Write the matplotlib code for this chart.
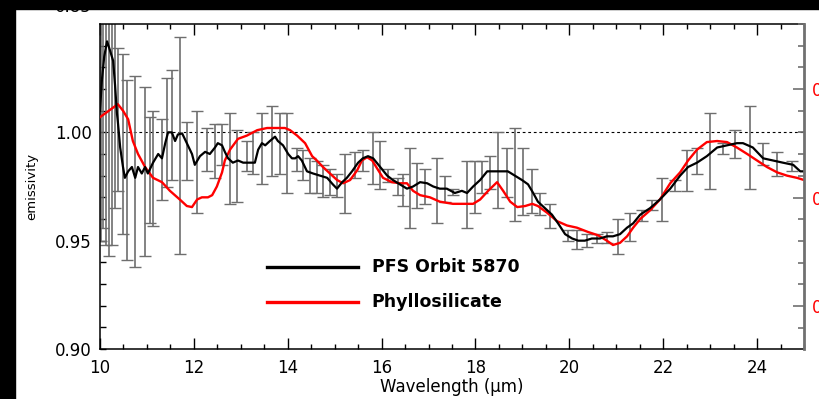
import numpy as np
import matplotlib
matplotlib.use("Agg")
import matplotlib.pyplot as plt
from matplotlib.patches import Rectangle
from matplotlib.ticker import MultipleLocator, FixedLocator

# PFS Orbit 5870 spectrum (wavelength, emissivity)
pfs_wl = [10.00, 10.04, 10.09, 10.15, 10.21, 10.28, 10.32, 10.36, 10.38, 10.43,
          10.49, 10.53, 10.60, 10.68, 10.75, 10.81, 10.89, 10.96, 11.02, 11.13,
          11.24, 11.32, 11.39, 11.45, 11.53, 11.60, 11.66, 11.75, 11.85, 11.96,
          12.02, 12.13, 12.24, 12.34, 12.45, 12.51, 12.60, 12.66, 12.73, 12.83,
          12.94, 13.05, 13.15, 13.30, 13.37, 13.45, 13.52, 13.62, 13.73, 13.79,
          13.90, 14.01, 14.09, 14.16, 14.22, 14.30, 14.41, 14.54, 14.69, 14.84,
          14.96, 15.05, 15.16, 15.26, 15.37, 15.50, 15.60, 15.71, 15.82, 15.97,
          16.12, 16.24, 16.39, 16.54, 16.67, 16.82, 16.97, 17.10, 17.24, 17.39,
          17.56, 17.71, 17.82, 17.95, 18.10, 18.25, 18.37, 18.52, 18.69, 18.84,
          18.99, 19.12, 19.23, 19.33, 19.48, 19.63, 19.76, 19.91, 20.06, 20.19,
          20.33, 20.48, 20.65, 20.80, 20.93, 21.08, 21.23, 21.36, 21.51, 21.72,
          21.93, 22.15, 22.36, 22.53, 22.72, 22.93, 23.15, 23.36, 23.57, 23.70,
          23.91, 24.13, 24.34, 24.55, 24.77, 24.92, 25.00]
pfs_em = [1.010, 1.024, 1.035, 1.042, 1.038, 1.033, 1.022, 1.009, 1.005, 0.993,
          0.984, 0.979, 0.982, 0.984, 0.979, 0.984, 0.981, 0.984, 0.981, 0.986,
          0.990, 0.988, 0.995, 1.000, 1.000, 0.996, 0.999, 0.9995, 0.995, 0.990,
          0.985, 0.989, 0.991, 0.990, 0.993, 0.995, 0.994, 0.991, 0.988, 0.986,
          0.987, 0.986, 0.986, 0.986, 0.992, 0.995, 0.994, 0.996, 0.998, 0.996,
          0.994, 0.990, 0.988, 0.988, 0.989, 0.987, 0.982, 0.981, 0.980, 0.979,
          0.976, 0.974, 0.977, 0.979, 0.982, 0.986, 0.988, 0.989, 0.988, 0.984,
          0.980, 0.978, 0.976, 0.974, 0.975, 0.977, 0.9765, 0.975, 0.974, 0.974,
          0.972, 0.973, 0.972, 0.975, 0.978, 0.982, 0.982, 0.982, 0.982, 0.980,
          0.978, 0.976, 0.972, 0.968, 0.965, 0.962, 0.958, 0.953, 0.951, 0.950,
          0.950, 0.951, 0.951, 0.952, 0.952, 0.953, 0.956, 0.958, 0.962, 0.965,
          0.969, 0.974, 0.980, 0.984, 0.986, 0.989, 0.993, 0.994, 0.995, 0.995,
          0.993, 0.988, 0.987, 0.986, 0.985, 0.982, 0.982]

# Phyllosilicate model
phy_wl = [10.00, 10.19, 10.38, 10.49, 10.60, 10.70, 10.81, 10.96, 11.13, 11.32,
          11.49, 11.70, 11.85, 11.96, 12.07, 12.17, 12.30, 12.39, 12.49, 12.60,
          12.66, 12.77, 12.94, 13.13, 13.35, 13.56, 13.77, 13.94, 14.05, 14.20,
          14.37, 14.52, 14.62, 14.75, 14.90, 15.05, 15.18, 15.33, 15.48, 15.58,
          15.69, 15.80, 15.90, 16.03, 16.22, 16.39, 16.54, 16.67, 16.82, 17.03,
          17.24, 17.52, 17.82, 17.95, 18.10, 18.27, 18.46, 18.59, 18.74, 18.89,
          19.06, 19.21, 19.33, 19.52, 19.74, 19.95, 20.16, 20.40, 20.61, 20.80,
          20.93, 21.08, 21.23, 21.36, 21.51, 21.72, 21.93, 22.15, 22.36, 22.53,
          22.72, 22.93, 23.15, 23.36, 23.57, 23.79, 24.00, 24.21, 24.43, 24.64,
          24.85, 25.00]
phy_em = [1.007, 1.010, 1.013, 1.010, 1.006, 0.996, 0.990, 0.984, 0.979, 0.977,
          0.973, 0.969, 0.966, 0.9655, 0.969, 0.970, 0.970, 0.971, 0.975, 0.9815,
          0.987, 0.992, 0.997, 0.9985, 1.001, 1.002, 1.002, 1.002, 1.001, 0.9985,
          0.995, 0.989, 0.987, 0.984, 0.981, 0.978, 0.9765, 0.978, 0.9825, 0.987,
          0.9885, 0.987, 0.9835, 0.979, 0.977, 0.9765, 0.9765, 0.973, 0.971, 0.970,
          0.968, 0.967, 0.967, 0.967, 0.969, 0.973, 0.977, 0.973, 0.968, 0.9655,
          0.966, 0.967, 0.966, 0.963, 0.959, 0.957, 0.956, 0.954, 0.9525, 0.950,
          0.948, 0.949, 0.952, 0.956, 0.960, 0.964, 0.969, 0.9765, 0.9815, 0.987,
          0.992, 0.9955, 0.996, 0.9955, 0.993, 0.990, 0.987, 0.984, 0.9815, 0.980,
          0.979, 0.978]

# error bars (wavelength, upper, lower)
err_wl = [10.02, 10.06, 10.13, 10.19, 10.26, 10.32, 10.38, 10.49, 10.58, 10.75,
          10.96, 11.07, 11.13, 11.32, 11.43, 11.53, 11.70, 11.85, 12.07, 12.28,
          12.45, 12.60, 12.77, 12.92, 13.13, 13.26, 13.45, 13.66, 13.84, 13.98,
          14.20, 14.33, 14.47, 14.62, 14.75, 14.90, 15.05, 15.22, 15.43, 15.60,
          15.82, 15.97, 16.14, 16.35, 16.46, 16.61, 16.75, 16.93, 17.18, 17.35,
          17.52, 17.82, 17.99, 18.14, 18.31, 18.48, 18.67, 18.84, 19.01, 19.21,
          19.38, 19.59, 19.97, 20.16, 20.38, 20.59, 20.80, 21.04, 21.29, 21.55,
          21.76, 21.98, 22.25, 22.51, 22.72, 23.00, 23.28, 23.53, 23.85, 24.13,
          24.43, 24.75]
err_hi = [1.080, 1.080, 1.080, 1.080, 1.080, 1.080, 1.039, 1.036, 1.024, 1.026,
          1.021, 1.007, 1.010, 1.006, 1.025, 1.029, 1.044, 1.005, 1.010, 1.002,
          1.004, 1.004, 1.009, 1.001, 0.996, 1.000, 1.009, 1.012, 1.009, 1.009,
          0.993, 0.992, 0.988, 0.987, 0.985, 0.983, 0.981, 0.990, 0.991, 0.992,
          1.000, 0.996, 0.983, 0.979, 0.981, 0.993, 0.986, 0.983, 0.988, 0.980,
          0.974, 0.987, 0.987, 0.987, 0.989, 1.000, 0.993, 1.002, 0.993, 0.983,
          0.972, 0.967, 0.955, 0.955, 0.953, 0.953, 0.954, 0.960, 0.963, 0.964,
          0.969, 0.979, 0.978, 0.992, 0.993, 1.009, 0.995, 1.001, 1.012, 0.995,
          0.991, 0.987]
err_lo = [0.950, 0.956, 0.948, 0.943, 0.948, 0.965, 0.973, 0.953, 0.941, 0.938,
          0.943, 0.958, 0.957, 0.969, 0.975, 0.978, 0.944, 0.978, 0.963, 0.982,
          0.979, 0.985, 0.967, 0.968, 0.982, 0.981, 0.976, 0.980, 0.981, 0.972,
          0.982, 0.978, 0.972, 0.972, 0.970, 0.971, 0.970, 0.963, 0.979, 0.982,
          0.976, 0.974, 0.977, 0.971, 0.966, 0.956, 0.965, 0.967, 0.958, 0.968,
          0.971, 0.956, 0.963, 0.972, 0.974, 0.965, 0.970, 0.959, 0.962, 0.963,
          0.962, 0.956, 0.950, 0.946, 0.947, 0.949, 0.949, 0.944, 0.950, 0.959,
          0.964, 0.959, 0.973, 0.973, 0.981, 0.974, 0.990, 0.988, 0.974, 0.985,
          0.980, 0.982]

y_ticks = [0.90, 0.95, 1.00]
right_ticks = [0.10, 0.20, 0.30]
x_ticks = [10, 12, 14, 16, 18, 20, 22, 24]

plt.rcParams['font.family'] = ['DejaVu Sans']

fig = plt.figure(figsize=(8.19, 3.99), dpi=100)
ax = fig.add_axes([100 / 819, 1 - 349 / 399, 704 / 819, 325 / 399])

err_hi = np.array(err_hi)
err_lo = np.array(err_lo)
mid = (err_hi + err_lo) / 2
half = (err_hi - err_lo) / 2
_, caps, bars = ax.errorbar(err_wl, mid, yerr=half, fmt='none', ecolor='#6e6e6e',
                            elinewidth=1.2, capsize=4.5, capthick=1.0, zorder=2)
for c in caps:
    c.set_color('black')

ax.axhline(1.0, color='black', lw=0.8, ls=(0, (2.5, 2.5)), zorder=1)
ax.plot(phy_wl, phy_em, color='#ff0000', lw=1.7, zorder=3)
ax.plot(pfs_wl, pfs_em, color='black', lw=1.6, zorder=4)

# legend drawn by hand, like the original
ax.plot([0.237, 0.3665], [0.2523, 0.2523], color='black', lw=2.4, transform=ax.transAxes)
ax.plot([0.237, 0.3665], [0.1446, 0.1446], color='#ff0000', lw=2.4, transform=ax.transAxes)
ax.text(0.386, 0.2523, "PFS Orbit 5870", transform=ax.transAxes, va='center',
        fontsize=12.5, fontweight='bold')
ax.text(0.386, 0.1446, "Phyllosilicate", transform=ax.transAxes, va='center',
        fontsize=12.5, fontweight='bold')

ax.set_xlim(10, 25)
ax.set_ylim(0.90, 1.05)
ax.set_xticks(x_ticks)
ax.xaxis.set_minor_locator(MultipleLocator(0.5))
ax.set_yticks(y_ticks)
ax.set_yticklabels(["%.2f" % v for v in y_ticks])
ax.yaxis.set_minor_locator(FixedLocator(np.arange(0.91, 1.045, 0.01)))
ax.tick_params(which='both', direction='in', top=True, right=False, labelsize=12,
               width=1.0, color='black')
ax.tick_params(axis='x', which='major', length=8, pad=7)
ax.tick_params(axis='x', which='minor', length=3.5)
ax.tick_params(axis='y', which='major', length=4, pad=6)
ax.tick_params(axis='y', which='minor', length=4)
for s in ['left', 'bottom', 'top']:
    ax.spines[s].set_linewidth(1.1)
ax.spines['right'].set_visible(False)

ax.set_xlabel("Wavelength (μm)", fontsize=12, labelpad=1)
ax.set_ylabel("emissivity", fontsize=9.5, labelpad=12)

# second scale on the right (red)
ax2 = ax.twinx()
ax2.set_ylim(0.0604, 0.360)
ax2.set_yticks(right_ticks)
ax2.set_yticklabels(["%.2f" % v for v in right_ticks])
ax2.yaxis.set_minor_locator(MultipleLocator(0.02))
ax2.tick_params(which='both', direction='in', labelsize=12, labelcolor='#ff0000',
                color='#707070', width=1.2, pad=6)
ax2.tick_params(which='major', length=8)
ax2.tick_params(which='minor', length=4)
ax2.spines['right'].set_color('#707070')
ax2.spines['right'].set_linewidth(2)
for s in ['left', 'bottom', 'top']:
    ax2.spines[s].set_visible(False)

# bottom label of the panel above, mostly hidden
fig.text(92 / 819, 1 - 12.5 / 399, "0.85", ha='right', va='baseline', fontsize=12, zorder=5)
fig.add_artist(Rectangle((0, 1 - 9 / 399), 1, 9 / 399, transform=fig.transFigure,
                         color='black', zorder=10))
fig.add_artist(Rectangle((0, 0), 15 / 819, 1, transform=fig.transFigure,
                         color='black', zorder=10))

fig.savefig("out.png", dpi=100)
